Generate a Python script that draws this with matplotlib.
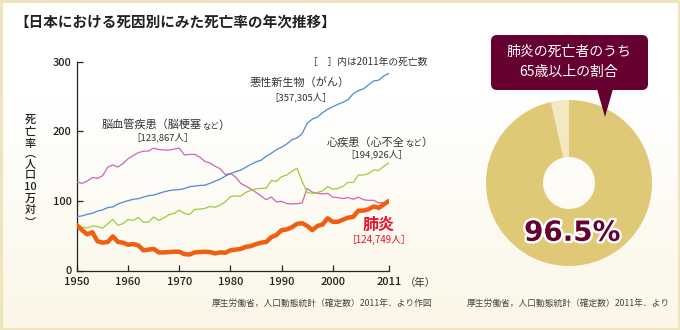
import numpy as np
import matplotlib
matplotlib.use("Agg")
import matplotlib.pyplot as plt
from matplotlib.patches import FancyBboxPatch, Polygon, Rectangle
import matplotlib.patheffects as pe

plt.rcParams['font.family'] = ['Noto Sans CJK JP', 'DejaVu Sans']

# ---------------- data ----------------
years = list(range(1950, 2012))
cancer = [77.4, 78.5, 80.7, 82.2, 85.3, 87.1, 90.4, 91.3, 95.5, 98.2,
          100.4, 102.3, 103.2, 105.5, 107.5, 108.4, 110.8, 113.0, 114.8, 115.8,
          116.3, 117.7, 120.4, 121.2, 122.2, 122.6, 125.3, 128.4, 131.3, 135.7,
          139.1, 142.0, 144.2, 148.3, 152.5, 156.1, 158.5, 164.2, 168.4, 173.6,
          177.2, 181.7, 187.8, 190.4, 196.4, 211.6, 217.5, 220.4, 226.7, 231.6,
          235.2, 238.8, 241.7, 245.4, 253.9, 258.3, 261.0, 266.9, 272.3, 273.5,
          279.7, 283.2]
cerebro = [127.1, 125.2, 128.5, 133.7, 132.4, 136.1, 148.4, 151.7, 148.6, 153.7,
           160.7, 165.4, 169.4, 171.4, 171.7, 175.8, 173.8, 173.1, 173.1, 174.4,
           175.8, 166.1, 166.7, 166.9, 163.0, 156.7, 154.5, 149.8, 146.2, 137.7,
           139.5, 134.3, 125.3, 121.3, 117.2, 112.2, 106.9, 101.7, 105.5, 98.5,
           99.4, 96.2, 95.6, 96.0, 96.9, 117.9, 112.6, 111.0, 110.0, 110.8,
           105.5, 104.7, 103.4, 104.7, 102.3, 105.3, 101.7, 100.8, 100.9, 97.2,
           97.7, 98.2]
heart = [64.2, 62.2, 61.0, 64.0, 63.2, 60.9, 66.8, 73.6, 64.8, 67.5,
         73.2, 72.1, 76.2, 69.1, 69.6, 77.0, 71.9, 75.7, 80.2, 82.1,
         86.7, 82.0, 80.2, 87.8, 88.1, 89.2, 92.0, 90.9, 93.8, 98.9,
         106.2, 107.2, 106.7, 112.2, 115.2, 117.3, 117.9, 118.4, 129.4, 128.1,
         134.8, 137.2, 142.2, 147.0, 128.6, 112.0, 110.8, 112.2, 114.3, 120.4,
         116.8, 117.8, 121.0, 126.5, 126.5, 137.2, 137.2, 139.2, 144.4, 143.7,
         149.8, 154.5]
pneumonia = [65, 58, 52, 55, 42, 40, 41, 49, 41, 40,
             37, 38, 36, 29, 30, 31, 26, 26, 26.5, 27,
             27, 23.5, 23, 26, 26.5, 27, 26.5, 24.5, 26, 25.5,
             29, 30, 31, 34, 35, 38, 40, 41, 48, 51,
             58, 59, 62, 67, 68, 64, 58, 64, 66, 75,
             70, 70, 73, 76, 77, 86, 86, 88, 92, 90,
             95, 100]

xticks = [1950, 1960, 1970, 1980, 1990, 2000, 2011]
yticks = [0, 100, 200, 300]

share_labels = ['65歳未満', '65歳以上']
share_values = [3.5, 96.5]

# ---------------- figure ----------------
W, H = 680, 330
fig = plt.figure(figsize=(W / 100, H / 100), dpi=100)


def fx(x):
    return x / W


def fy(y):
    return 1 - y / H


# background gradient
bg = fig.add_axes([0, 0, 1, 1], zorder=-10)
grad = np.linspace(0, 1, 256)[:, None]
top = np.array([1.0, 1.0, 1.0])
bot = np.array([0xfb, 0xf6, 0xe6]) / 255
img = np.clip((grad - 0.3) / 0.7, 0, 1)[:, :, None] * (bot - top) + top
img = np.repeat(img, 2, axis=1)
bg.imshow(img, aspect='auto', extent=[0, 1, 0, 1], origin='upper')
bg.add_patch(Rectangle((0.0015, 0.003), 0.997, 0.994, fill=False,
                       edgecolor='#efe5bd', lw=2.2, transform=bg.transAxes))
bg.set_xlim(0, 1)
bg.set_ylim(0, 1)
bg.axis('off')

# ---------------- line chart ----------------
ax = fig.add_axes([fx(77), fy(270.5), fx(389) - fx(77), fy(61.7) - fy(270.5)])
ax.set_facecolor('none')
ax.plot(years, cerebro, color='#cc66b8', lw=0.9, zorder=3)
ax.plot(years, cancer, color='#4a8ad6', lw=0.9, zorder=3)
ax.plot(years, heart, color='#9ccc3a', lw=0.9, zorder=3)
ax.plot(years, pneumonia, color='#f05f10', lw=3.2, zorder=4,
        solid_joinstyle='round', solid_capstyle='round')

ax.set_xlim(1950, 2011)
ax.set_ylim(0, 300)
ax.set_xticks(xticks)
ax.set_yticks(yticks)
ax.spines['top'].set_visible(False)
ax.spines['right'].set_visible(False)
for s in ['left', 'bottom']:
    ax.spines[s].set_linewidth(0.9)
    ax.spines[s].set_color('#222222')
ax.tick_params(axis='both', direction='in', length=4, width=0.9,
               color='#222222', labelsize=8, labelcolor='#222222')
ax.tick_params(axis='x', pad=5)
ax.tick_params(axis='y', pad=4)
for lab in ax.get_xticklabels() + ax.get_yticklabels():
    lab.set_fontweight('medium')

# ---------------- texts ----------------
txtc = '#333333'
fig.text(fx(14), fy(22), '【日本における死因別にみた死亡率の年次推移】', fontsize=10.5,
         fontweight='bold', color='#222222', ha='left', va='center')
fig.text(fx(308), fy(62), '［　］内は2011年の死亡数', fontsize=7, color=txtc,
         ha='left', va='center')

fig.text(fx(300), fy(82), '悪性新生物（がん）', fontsize=8, color=txtc,
         ha='center', va='center')
fig.text(fx(301), fy(97), '［357,305人］', fontsize=6.8, color=txtc,
         ha='center', va='center')

# chained labels with smaller "など"
fig.canvas.draw()
renderer = fig.canvas.get_renderer()


def chain(x0, y0, parts):
    x = fx(x0)
    for s, size in parts:
        t = fig.text(x, fy(y0), s, fontsize=size, color=txtc, ha='left', va='baseline')
        bb = t.get_window_extent(renderer=renderer)
        x = x + bb.width / W


chain(102, 129, [('脳血管疾患（脳梗塞', 8), ('など', 6), ('）', 8)])
fig.text(fx(163), fy(137), '［123,867人］', fontsize=6.8, color=txtc,
         ha='center', va='center')
chain(327, 146, [('心疾患（心不全', 8), ('など', 6), ('）', 8)])
fig.text(fx(377), fy(154), '［194,926人］', fontsize=6.8, color=txtc,
         ha='center', va='center')

fig.text(fx(379), fy(225), '肺炎', fontsize=11.5, fontweight='bold',
         color='#e8132b', ha='center', va='center')
fig.text(fx(378), fy(240), '［124,749人］', fontsize=7, color='#e8132b',
         ha='center', va='center')

fig.text(fx(420), fy(283), '（年）', fontsize=7.5, color=txtc, ha='center', va='center')

# vertical y label, one glyph per row
ylab_chars = ['死', '亡', '率', '︵', '人', '口', '10', '万', '対', '︶']
ylab_pos = [120, 132, 144, 154, 164, 175, 187, 199, 210, 223]
for ch, yy in zip(ylab_chars, ylab_pos):
    fig.text(fx(30), fy(yy), ch, fontsize=8, color='#222222', ha='center',
             va='center', fontweight='medium')

fig.text(fx(432), fy(303), '厚生労働省，人口動態統計（確定数）2011年．より作図',
         fontsize=6.3, color='#444444', ha='right', va='center')
fig.text(fx(670), fy(303), '厚生労働省，人口動態統計（確定数）2011年．より',
         fontsize=6.3, color='#444444', ha='right', va='center')

# ---------------- donut ----------------
cx, cy, r = 569, 183, 83
axd = fig.add_axes([fx(cx - r), fy(cy + r), 2 * r / W, 2 * r / H])
axd.pie(share_values, colors=['#f3e8c2', '#dfc876'], startangle=90,
        counterclock=True, radius=1.0,
        wedgeprops=dict(width=1 - 26 / 83, edgecolor='none'))
axd.set_xlim(-1, 1)
axd.set_ylim(-1, 1)
axd.set_aspect('equal')
axd.axis('off')
axd.text(0.04, -0.6, f'{share_values[1]}%', fontsize=20, fontweight='bold',
         family='DejaVu Sans', color='#650030', ha='center', va='center',
         path_effects=[pe.withStroke(linewidth=3.5, foreground='white')])

# callout box
ov = fig.add_axes([0, 0, 1, 1], zorder=5)
ov.set_xlim(0, W)
ov.set_ylim(H, 0)
ov.axis('off')
ov.add_patch(FancyBboxPatch((491 + 6, 35 + 6), 157 - 12, 55 - 12,
                            boxstyle='round,pad=6', facecolor='#650030',
                            edgecolor='none'))
ov.add_patch(Polygon([(597, 89), (613, 89), (605, 117)], closed=True,
                     facecolor='#650030', edgecolor='none'))
ov.text(569, 52, '肺炎の死亡者のうち', fontsize=10, color='white',
        ha='center', va='center')
ov.text(569, 72, '65歳以上の割合', fontsize=10, color='white',
        ha='center', va='center')

fig.savefig('out.png', dpi=100)
